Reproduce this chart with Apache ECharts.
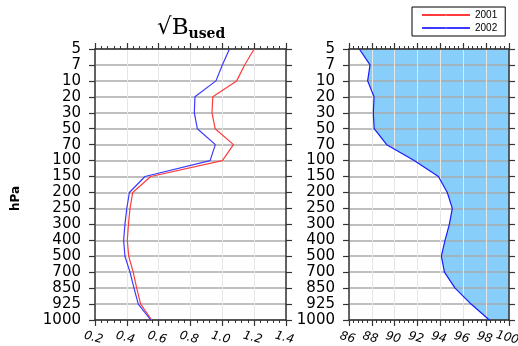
<!DOCTYPE html>
<html><head><meta charset="utf-8">
<script src="https://cdn.jsdelivr.net/npm/echarts@6/dist/echarts.min.js"></script>
<style>html,body{margin:0;padding:0;background:#fff}#c{width:518px;height:346px}</style>
</head><body><div id="c"></div>
<script>
var levels = ['5','7','10','20','30','50','70','100','150','200','250','300','400','500','700','850','925','1000'];
var b2001 = [1.20,1.14,1.09,0.94,0.935,0.955,1.07,1.00,0.55,0.437,0.42,0.41,0.403,0.412,0.44,0.462,0.487,0.556];
var b2002 = [1.045,1.00,0.96,0.828,0.824,0.843,0.956,0.923,0.514,0.416,0.40,0.388,0.38,0.388,0.42,0.445,0.472,0.55];
var used2002 = [86.9,87.84,87.63,88.19,88.13,88.2,89.3,91.7,93.82,94.6,95.04,94.78,94.4,94.08,94.35,95.28,96.68,98.28];

var chart = echarts.init(document.getElementById('c'));
function yCat(idx, pos, labels){
  return {type:'category', gridIndex:idx, position:pos, data:levels, inverse:true, boundaryGap:false, z:3,
    axisLine:{show:true, onZero:false, lineStyle:{color:'#333',width:1.5}},
    axisTick:{show:true, inside:false, length:6, interval:0, lineStyle:{color:'#333',width:1.2}},
    axisLabel:{show:labels, interval:0, margin:14, fontSize:15, color:'#000', fontFamily:'DejaVu Sans'},
    splitLine:{show:labels, interval:0, lineStyle:{color:'#aaa', width:1.5}}};
}
function xVal(idx, pos, min, max, iv, labels){
  return {type:'value', gridIndex:idx, position:pos, min:min, max:max, interval:iv, z:3,
    axisLine:{show:true, onZero:false, lineStyle:{color:'#333',width:1.5}},
    axisTick:{show:true, inside:false, length:6, lineStyle:{color:'#333',width:1.2}},
    minorTick:{show:true, splitNumber:5, length:3, lineStyle:{color:'#333',width:1}},
    axisLabel:{show:labels, margin:12, fontSize:12, rotate:-15, align:'center', verticalAlign:'top',
      fontStyle:'italic', color:'#000', fontFamily:'DejaVu Sans',
      formatter: function(v){ return iv<1 ? v.toFixed(1) : String(v); }},
    splitLine:{show:labels, lineStyle:{color:'#e6e6e6', width:1}}};
}
chart.setOption({
  animation:false,
  title:{text:'{a|√B}{b|used}', left:152, top:10,
    textStyle:{fontWeight:'normal', rich:{a:{fontSize:23, fontWeight:'normal', fontFamily:'DejaVu Serif', color:'#000'},
                     b:{fontSize:14, fontWeight:'bold', fontFamily:'DejaVu Serif', color:'#000', padding:[12,0,0,0]}}}},
  legend:{data:['2001','2002'], orient:'vertical', left:412, top:7, itemWidth:48, itemHeight:2, itemGap:3,
    padding:[3,8,3,9], borderColor:'#000', borderWidth:1, textStyle:{fontSize:10, color:'#000'}},
  graphic:[{type:'text', left:10, top:186, rotation:Math.PI/2,
    style:{text:'hPa', font:'bold 12px "DejaVu Sans"', fill:'#000'}}],
  grid:[{left:95, top:49, width:191, height:271, outerBoundsMode:'none', containLabel:false},
        {left:349, top:49, width:160, height:271, outerBoundsMode:'none', containLabel:false}],
  xAxis:[xVal(0,'bottom',0.2,1.4,0.2,true), xVal(0,'top',0.2,1.4,0.2,false),
         xVal(1,'bottom',86,100,2,true), xVal(1,'top',86,100,2,false)],
  yAxis:[yCat(0,'left',true), yCat(0,'right',false), yCat(1,'left',true), yCat(1,'right',false)],
  series:[
    {name:'2001', type:'line', xAxisIndex:0, yAxisIndex:0, data:b2001, symbol:'none', z:5,
      lineStyle:{color:'#ff3b3b', width:1.2}, itemStyle:{color:'#ff8080'}},
    {name:'2002', type:'line', xAxisIndex:0, yAxisIndex:0, data:b2002, symbol:'none', z:5,
      lineStyle:{color:'#3b3bff', width:1.2}, itemStyle:{color:'#8080ff'}},
    {name:'fill', type:'line', xAxisIndex:2, yAxisIndex:2, data:used2002, symbol:'none', z:1,
      lineStyle:{width:0}, areaStyle:{origin:'end', color:'#87cefa', opacity:1}},
    {name:'used', type:'line', xAxisIndex:2, yAxisIndex:2, data:used2002, symbol:'none', z:5,
      lineStyle:{color:'#1a1aff', width:1.2}}
  ]
});
</script></body></html>
